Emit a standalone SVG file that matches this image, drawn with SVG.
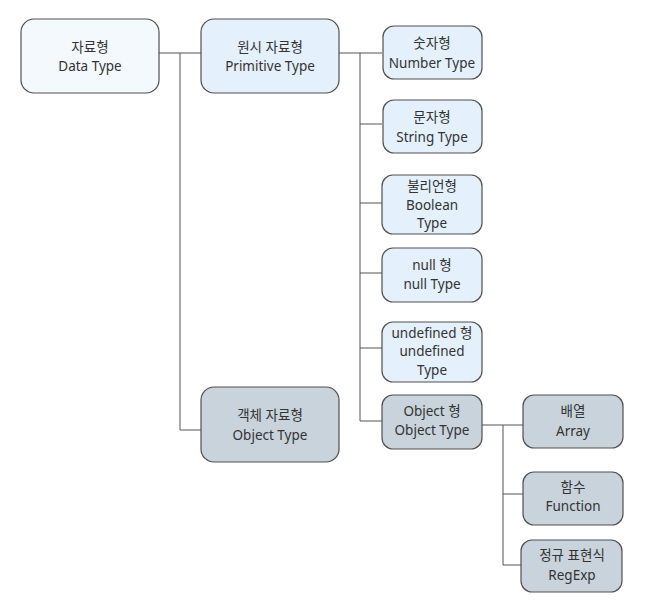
<svg xmlns="http://www.w3.org/2000/svg" width="645" height="614" viewBox="0 0 645 614">
<style>
.n rect{stroke:#505050;stroke-width:1.2}
.root{fill:#f4f9fe}
.blue{fill:#e4f0fb}
.gray{fill:#c8d3dc}
text{font-family:"Noto Sans","Noto Sans CJK KR",sans-serif;font-size:13.5px;fill:#333;text-anchor:middle}
#connectors path{fill:none;stroke:#555;stroke-width:1}
</style>
<rect width="645" height="614" fill="#ffffff"/>
<g id="connectors">
<path d="M159 53 H201"/>
<path d="M180 53 V430 H201"/>
<path d="M339 53 H382"/>
<path d="M360 53 V421 H382"/>
<path d="M360 124 H382"/>
<path d="M360 203 H382"/>
<path d="M360 273 H382"/>
<path d="M360 348 H382"/>
<path d="M482 425 H523"/>
<path d="M503 425 V565 H521"/>
<path d="M503 494 H523"/>
</g>
<g id="n-datatype" class="n">
<rect class="root" x="21" y="19" width="138" height="74" rx="13"/>
<text x="90" y="52">자료형</text>
<text x="90" y="71">Data Type</text>
</g>
<g id="n-primitive" class="n">
<rect class="blue" x="201" y="19" width="138" height="74" rx="13"/>
<text x="270" y="52">원시 자료형</text>
<text x="270" y="71">Primitive Type</text>
</g>
<g id="n-object" class="n">
<rect class="gray" x="201" y="387" width="138" height="75" rx="13"/>
<text x="270" y="420">객체 자료형</text>
<text x="270" y="440">Object Type</text>
</g>
<g id="n-number" class="n">
<rect class="blue" x="383" y="26" width="99" height="53" rx="11"/>
<text x="432" y="48">숫자형</text>
<text x="432" y="68">Number Type</text>
</g>
<g id="n-string" class="n">
<rect class="blue" x="383" y="100" width="99" height="53" rx="11"/>
<text x="432" y="122">문자형</text>
<text x="432" y="142">String Type</text>
</g>
<g id="n-boolean" class="n">
<rect class="blue" x="382" y="175" width="100" height="59" rx="11"/>
<text x="432" y="191">불리언형</text>
<text x="432" y="210">Boolean</text>
<text x="432" y="228">Type</text>
</g>
<g id="n-null" class="n">
<rect class="blue" x="382" y="248" width="100" height="54" rx="11"/>
<text x="432" y="270">null 형</text>
<text x="432" y="289">null Type</text>
</g>
<g id="n-undefined" class="n">
<rect class="blue" x="382" y="322" width="100" height="60" rx="11"/>
<text x="432" y="338">undefined 형</text>
<text x="432" y="356">undefined</text>
<text x="432" y="375">Type</text>
</g>
<g id="n-objecttype" class="n">
<rect class="gray" x="382" y="395" width="100" height="54" rx="11"/>
<text x="432" y="416">Object 형</text>
<text x="432" y="435">Object Type</text>
</g>
<g id="n-array" class="n">
<rect class="gray" x="523" y="395" width="100" height="53" rx="11"/>
<text x="573" y="416">배열</text>
<text x="573" y="436">Array</text>
</g>
<g id="n-function" class="n">
<rect class="gray" x="523" y="472" width="100" height="53" rx="11"/>
<text x="573" y="492">함수</text>
<text x="573" y="511">Function</text>
</g>
<g id="n-regexp" class="n">
<rect class="gray" x="521" y="540" width="101" height="52" rx="11"/>
<text x="572" y="560">정규 표현식</text>
<text x="572" y="580">RegExp</text>
</g>
</svg>
